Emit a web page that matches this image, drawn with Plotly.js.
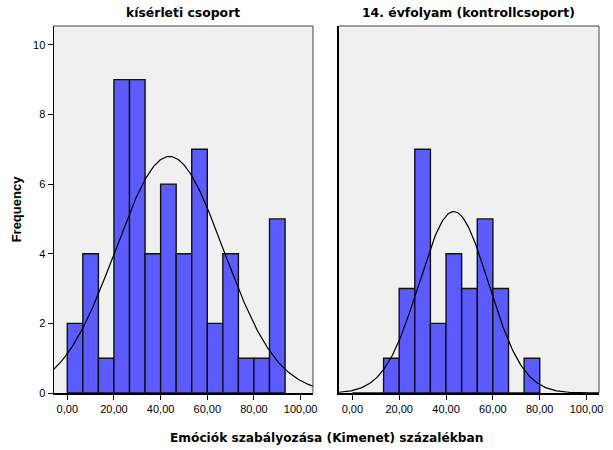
<!DOCTYPE html>
<html>
<head>
<meta charset="utf-8">
<script src="https://cdn.plot.ly/plotly-3.0.1.min.js"></script>
<style>
  body { margin: 0; background: #ffffff; }
  #chart { width: 613px; height: 450px; }
</style>
</head>
<body>
<div id="chart"></div>
<script>
"use strict";

// fréquences par classe (largeur 100/15)
var binWidth = 100 / 15;
var kiserletiCounts = [2, 4, 1, 9, 9, 4, 6, 4, 7, 2, 4, 1, 1, 5];
var kontrollCounts = [0, 0, 1, 3, 7, 2, 4, 3, 5, 3, 0, 1];

// paramètres de la courbe normale (moyenne, écart-type, effectif)
var kiserletiStats = { mean: 43.8, sd: 23.1, n: 59 };
var kontrollStats = { mean: 43.3, sd: 14.8, n: 29 };

var tickVals = [0, 20, 40, 60, 80, 100];
var tickText = ["0,00", "20,00", "40,00", "60,00", "80,00", "100,00"];
var xRange = [-5.7, 105.3];
var yRange = [0, 10.54];

function binCenters(counts) {
  return counts.map(function(c, i) { return (i + 0.5) * binWidth; });
}

function normalCurve(stats) {
  var xs = [];
  var ys = [];
  for (var x = xRange[0]; x <= xRange[1] + 0.01; x += 0.5) {
    var z = (x - stats.mean) / stats.sd;
    xs.push(x);
    ys.push(stats.n * binWidth * Math.exp(-0.5 * z * z) / (stats.sd * Math.sqrt(2 * Math.PI)));
  }
  return { x: xs, y: ys };
}

function barTrace(counts, xa, ya) {
  return {
    type: 'bar',
    x: binCenters(counts),
    y: counts,
    width: binWidth,
    xaxis: xa,
    yaxis: ya,
    marker: { color: '#5b5bff', line: { color: '#111111', width: 1.4 } },
    hoverinfo: 'x+y'
  };
}

function curveTrace(stats, xa, ya) {
  var c = normalCurve(stats);
  return {
    type: 'scatter',
    mode: 'lines',
    x: c.x,
    y: c.y,
    xaxis: xa,
    yaxis: ya,
    line: { color: '#000000', width: 1.2 },
    hoverinfo: 'skip'
  };
}

var data = [
  barTrace(kiserletiCounts, 'x', 'y'),
  curveTrace(kiserletiStats, 'x', 'y'),
  barTrace(kontrollCounts, 'x2', 'y2'),
  curveTrace(kontrollStats, 'x2', 'y2')
];

var axisFont = { family: 'Liberation Sans, Arial, sans-serif', size: 11, color: '#000000' };
var titleFont = { family: 'DejaVu Sans, sans-serif', size: 12.4, color: '#000000' };

function xAxis(domain, anchor) {
  return {
    domain: domain,
    anchor: anchor,
    range: xRange,
    tickvals: tickVals,
    ticktext: tickText,
    ticks: 'outside',
    ticklen: 5,
    tickcolor: '#000000',
    showline: true,
    linecolor: '#000000',
    linewidth: 1.5,
    showgrid: false,
    zeroline: false,
    tickfont: axisFont,
    fixedrange: true
  };
}

var layout = {
  width: 613,
  height: 450,
  margin: { l: 54, r: 14, t: 26, b: 57 },
  paper_bgcolor: '#ffffff',
  plot_bgcolor: '#f0f0f0',
  showlegend: false,
  bargap: 0,
  xaxis: xAxis([0, 0.4752], 'y'),
  xaxis2: xAxis([0.5229, 1], 'y2'),
  yaxis: {
    domain: [0, 1],
    anchor: 'x',
    range: yRange,
    tickvals: [0, 2, 4, 6, 8, 10],
    ticks: 'outside',
    ticklen: 5,
    tickcolor: '#000000',
    showline: true,
    linecolor: '#000000',
    linewidth: 1.5,
    showgrid: false,
    zeroline: false,
    tickfont: axisFont,
    title: {
      text: 'Frequency',
      standoff: 8,
      font: { family: 'Liberation Sans, Arial, sans-serif', size: 13, color: '#000000', weight: 'bold' }
    }
  },
  yaxis2: {
    domain: [0, 1],
    anchor: 'x2',
    range: yRange,
    showticklabels: false,
    ticks: '',
    showline: true,
    linecolor: '#000000',
    linewidth: 1.5,
    showgrid: false,
    zeroline: false
  },
  annotations: [
    {
      text: '<b>kísérleti csoport</b>',
      xref: 'x domain', yref: 'paper', x: 0.5, y: 1, yshift: 4,
      xanchor: 'center', yanchor: 'bottom', showarrow: false,
      font: titleFont
    },
    {
      text: '<b>14. évfolyam (kontrollcsoport)</b>',
      xref: 'x2 domain', yref: 'paper', x: 0.5, y: 1, yshift: 4,
      xanchor: 'center', yanchor: 'bottom', showarrow: false,
      font: titleFont
    },
    {
      text: '<b>Emóciók szabályozása (Kimenet) százalékban</b>',
      xref: 'paper', yref: 'paper', x: 0.5, y: 0, yshift: -36,
      xanchor: 'center', yanchor: 'top', showarrow: false,
      font: { family: 'DejaVu Sans, sans-serif', size: 12.2, color: '#000000' }
    }
  ],
  shapes: [
    // bordures haut/droite des deux panneaux
    { type: 'line', xref: 'x domain', yref: 'paper', x0: 0, x1: 1, y0: 1, y1: 1, line: { color: '#444444', width: 1 } },
    { type: 'line', xref: 'x domain', yref: 'paper', x0: 1, x1: 1, y0: 0, y1: 1, line: { color: '#444444', width: 1 } },
    { type: 'line', xref: 'x2 domain', yref: 'paper', x0: 0, x1: 1, y0: 1, y1: 1, line: { color: '#444444', width: 1 } },
    { type: 'line', xref: 'x2 domain', yref: 'paper', x0: 1, x1: 1, y0: 0, y1: 1, line: { color: '#444444', width: 1 } }
  ]
};

Plotly.newPlot('chart', data, layout, { displayModeBar: false, staticPlot: true });
</script>
</body>
</html>
